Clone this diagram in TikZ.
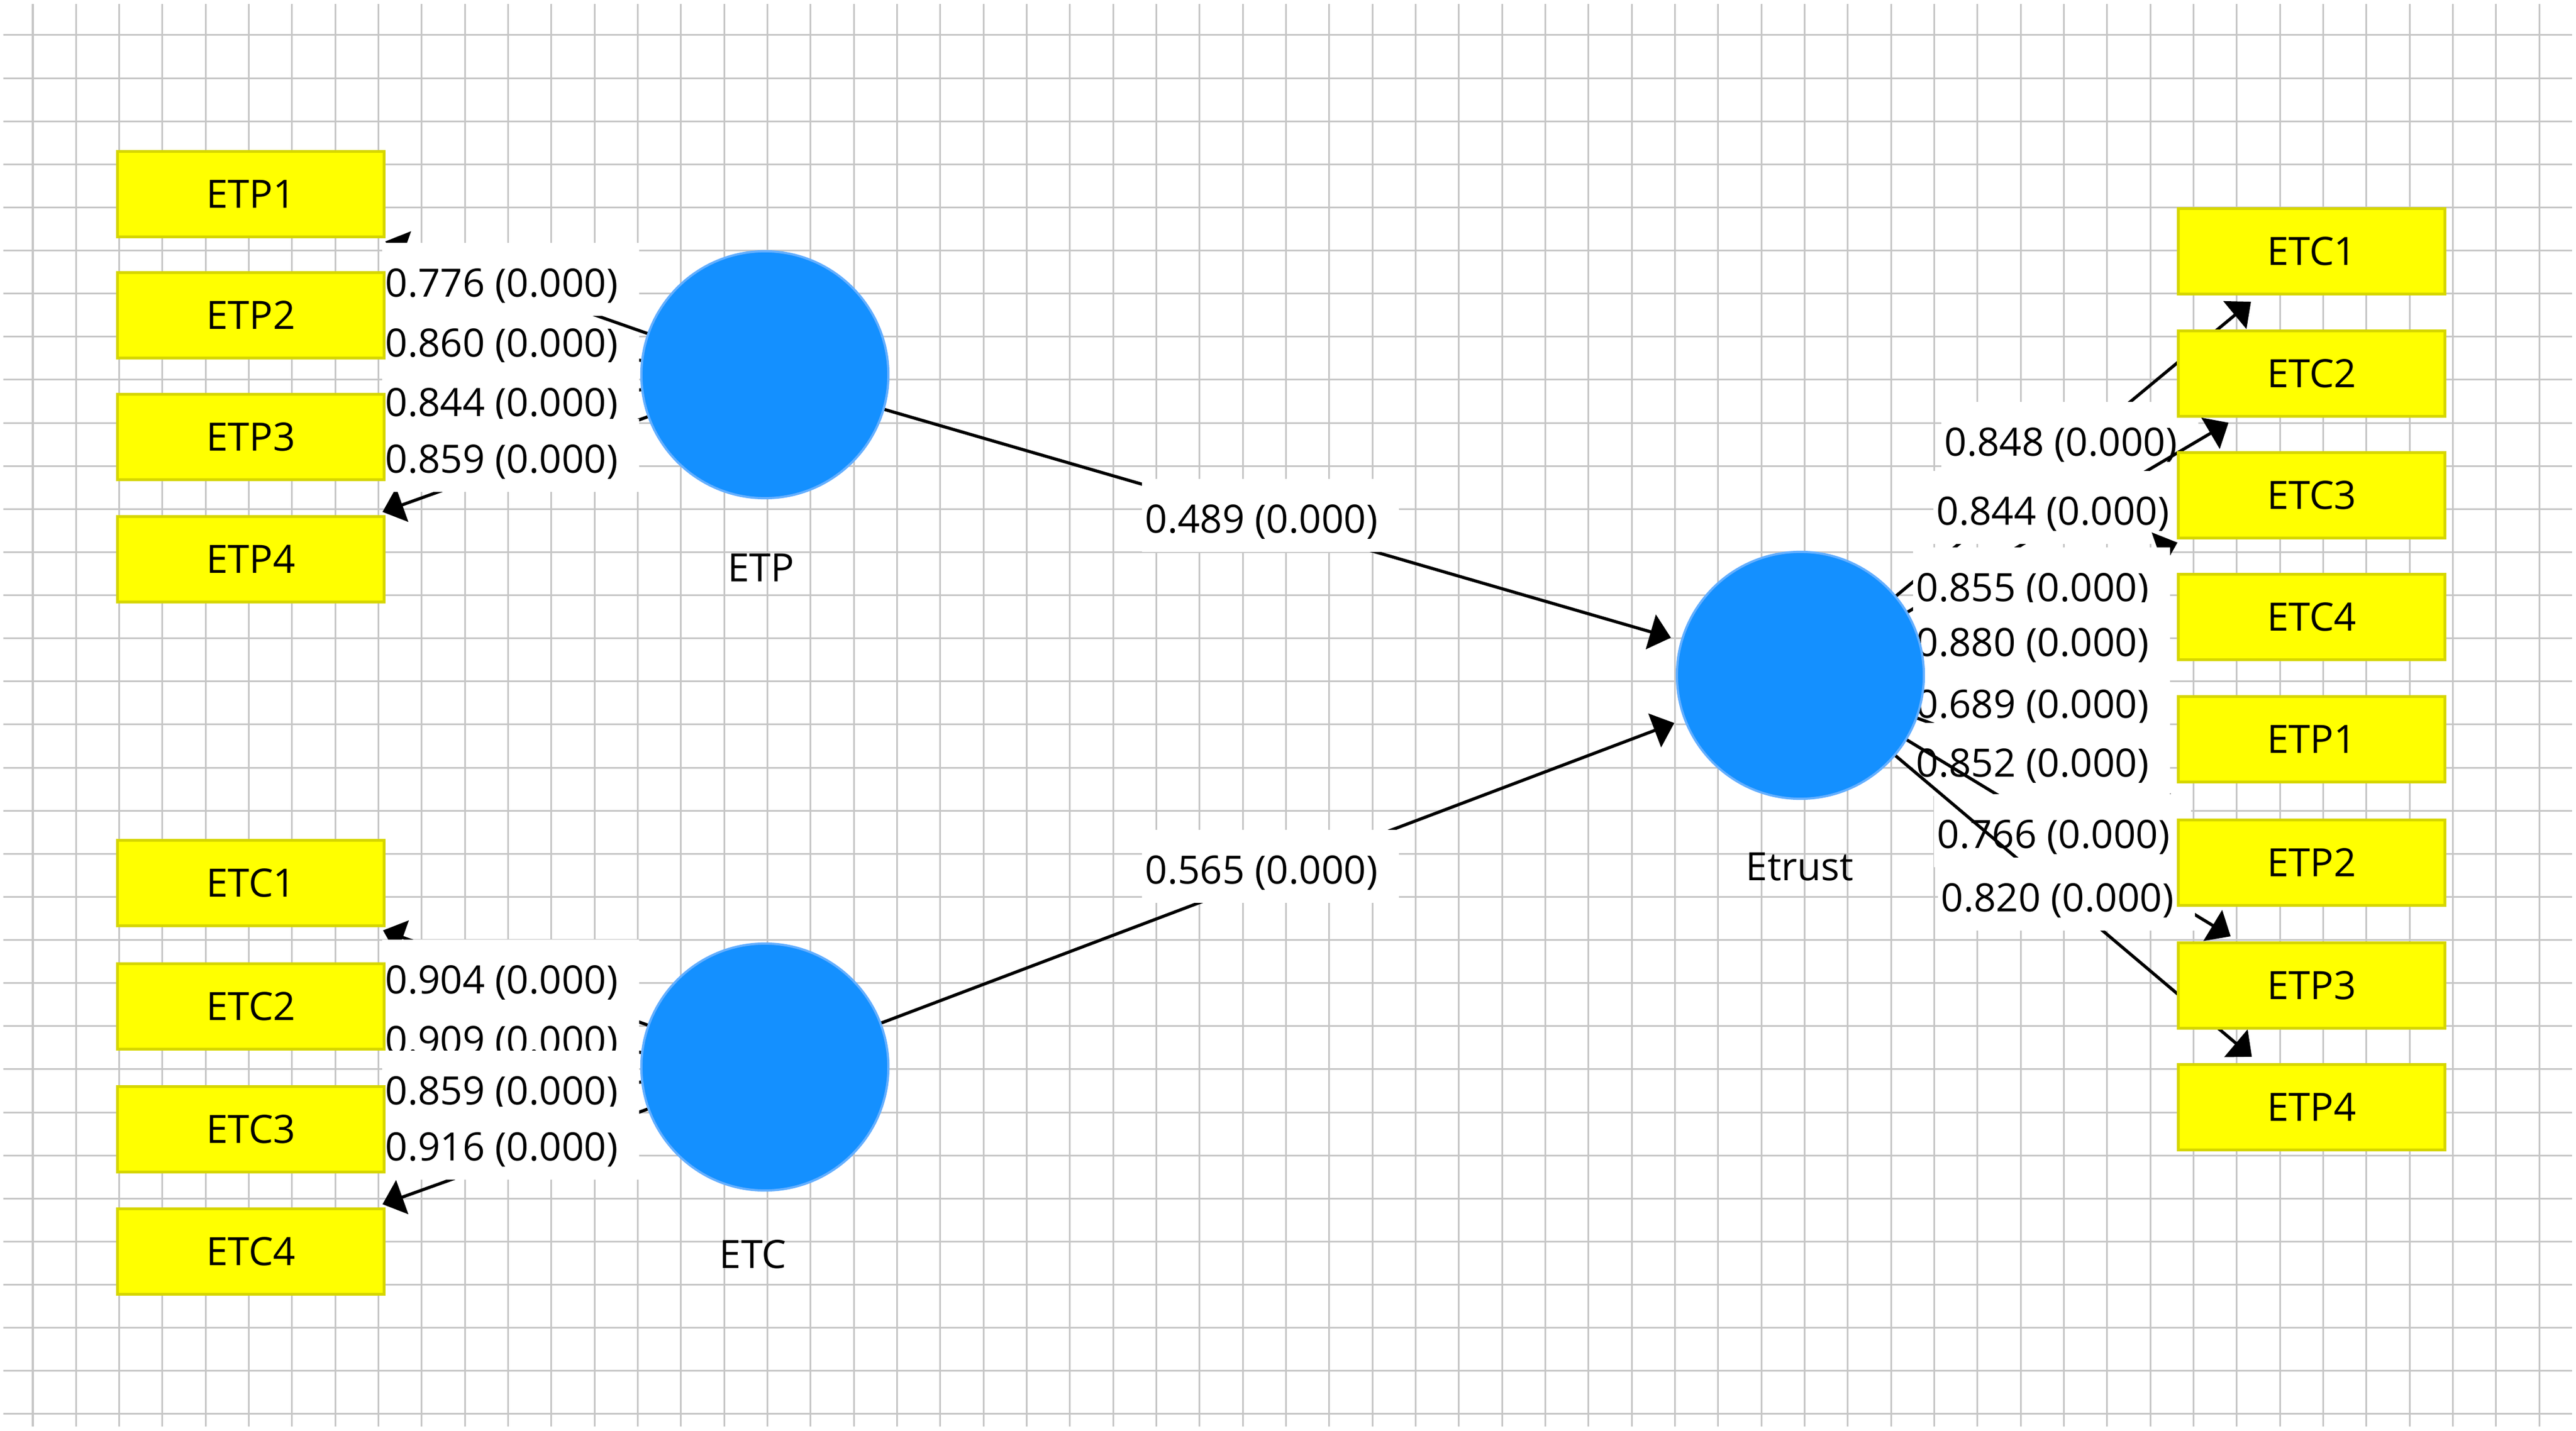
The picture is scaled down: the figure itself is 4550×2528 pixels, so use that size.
\documentclass[tikz,border=0pt]{standalone}
\usepackage{fontspec}
\setmainfont{Open Sans}
\usetikzlibrary{arrows.meta}
\pgfdeclarelayer{gridlayer}
\pgfdeclarelayer{edgelayer}
\pgfsetlayers{gridlayer,edgelayer,main}
\definecolor{gridgray}{RGB}{198,198,198}
\definecolor{boxyellow}{RGB}{255,255,0}
\definecolor{boxedge}{RGB}{214,214,0}
\definecolor{latentblue}{RGB}{20,144,255}
\definecolor{latentedge}{RGB}{100,175,255}
\tikzset{
  indicator/.style={rectangle, draw=boxedge, fill=boxyellow, line width=0.05cm,
    minimum width=4.7cm, minimum height=1.5cm, inner sep=0pt},
  latent/.style={circle, draw=latentedge, fill=latentblue, line width=0.04cm,
    minimum size=4.36cm, inner sep=0pt},
  latname/.style={inner sep=0pt},
  arr/.style={line width=0.055cm, -{Triangle[length=0.37cm,width=0.63cm]},
    shorten >=0.18cm},
  coef/.style={fill=white, inner sep=0pt, minimum width=4.54cm, minimum height=1.29cm,
    text height=0.782cm, text depth=0.16cm, xshift=0.16cm, yshift=0.065cm},
  gridline/.style={draw=gridgray, line width=0.03cm}
}
\newcommand{\cf}[1]{#1\hspace*{0.32cm}}
\begin{document}
\begin{tikzpicture}[x=0.01cm, y=-0.01cm, font=\fontsize{19.6pt}{23pt}\selectfont]
\useasboundingbox (0,0) rectangle (4550,2528);

% ---------- grid ----------
\begin{pgfonlayer}{gridlayer}
\fill[white] (0,0) rectangle (4550,2528);
\foreach \k in {0,...,58} \draw[gridline] ({58+76.33*\k},7) -- ({58+76.33*\k},2520);
\foreach \k in {0,...,32} \draw[gridline] (6,{62+76.12*\k}) -- (4543,{62+76.12*\k});
\end{pgfonlayer}

% ---------- latent variables ----------
\node[latent] (ETP) at (1351,662) {};
\node[latent] (ETC) at (1351,1885) {};
\node[latent] (Etrust) at (3180,1193) {};
\node[latname] (ETPname) at (1344,1003) {ETP};
\node[latname] (ETCname) at (1330,2216) {ETC};
\node[latname] (Etrustname) at (3179,1531) {Etrust};

% ---------- left indicators ----------
\node[indicator] (lETP1) at (443,343) {ETP1};
\node[indicator] (lETP2) at (443,557) {ETP2};
\node[indicator] (lETP3) at (443,772) {ETP3};
\node[indicator] (lETP4) at (443,988) {ETP4};
\node[indicator] (lETC1) at (443,1560) {ETC1};
\node[indicator] (lETC2) at (443,1778) {ETC2};
\node[indicator] (lETC3) at (443,1995) {ETC3};
\node[indicator] (lETC4) at (443,2211) {ETC4};

% ---------- right indicators ----------
\node[indicator] (rETC1) at (4083,444) {ETC1};
\node[indicator] (rETC2) at (4083,660) {ETC2};
\node[indicator] (rETC3) at (4083,875) {ETC3};
\node[indicator] (rETC4) at (4083,1090) {ETC4};
\node[indicator] (rETP1) at (4083,1306) {ETP1};
\node[indicator] (rETP2) at (4083,1524) {ETP2};
\node[indicator] (rETP3) at (4083,1741) {ETP3};
\node[indicator] (rETP4) at (4083,1956) {ETP4};

% ---------- connectors and coefficients ----------
\begin{pgfonlayer}{edgelayer}
% ETP block (left)
\draw[arr] (ETP) -- (lETP2);
\node[coef] (cETP2) at (886,606) {\cf{0.860 (0.000)}};
\draw[arr] (ETP) -- (lETP1);
\node[coef] (cETP1) at (886,500) {\cf{0.776 (0.000)}};
\draw[arr] (ETP) -- (lETP3);
\node[coef] (cETP3) at (886,711) {\cf{0.844 (0.000)}};
\draw[arr] (ETP) -- (lETP4);
\node[coef] (cETP4) at (886,811) {\cf{0.859 (0.000)}};
% ETC block (left)
\draw[arr] (ETC) -- (lETC1);
\node[coef] (cETC1) at (886,1731) {\cf{0.904 (0.000)}};
\draw[arr] (ETC) -- (lETC2);
\node[coef] (cETC2) at (886,1838) {\cf{0.909 (0.000)}};
\draw[arr] (ETC) -- (lETC3);
\node[coef] (cETC3) at (886,1927) {\cf{0.859 (0.000)}};
\draw[arr] (ETC) -- (lETC4);
\node[coef] (cETC4) at (886,2026) {\cf{0.916 (0.000)}};
% structural paths
\draw[arr] (ETP) -- (Etrust);
\node[coef] (pETP) at (2228,917) {\cf{0.489 (0.000)}};
\draw[arr] (ETC) -- (Etrust);
\node[coef] (pETC) at (2228,1537) {\cf{0.565 (0.000)}};
% Etrust block (right)
\draw[arr] (Etrust) -- (rETC1);
\node[coef] (tETC1) at (3640,781) {\cf{0.848 (0.000)}};
\draw[arr] (Etrust) -- (rETC2);
\node[coef] (tETC2) at (3626,903) {\cf{0.844 (0.000)}};
\draw[arr] (Etrust) -- (rETC3);
\node[coef] (tETC3) at (3590,1038) {\cf{0.855 (0.000)}};
\draw[arr] (Etrust) -- (rETC4);
\node[coef] (tETC4) at (3590,1135) {\cf{0.880 (0.000)}};
\draw[arr] (Etrust) -- (rETP1);
\node[coef] (tETP1) at (3590,1244) {\cf{0.689 (0.000)}};
\draw[arr] (Etrust) -- (rETP2);
\node[coef] (tETP2) at (3590,1348) {\cf{0.852 (0.000)}};
\draw[arr] (Etrust) -- (rETP3);
\node[coef] (tETP3) at (3627,1474) {\cf{0.766 (0.000)}};
\draw[arr] (Etrust) -- (rETP4);
\node[coef] (tETP4) at (3634,1586) {\cf{0.820 (0.000)}};
\end{pgfonlayer}
\end{tikzpicture}
\end{document}
